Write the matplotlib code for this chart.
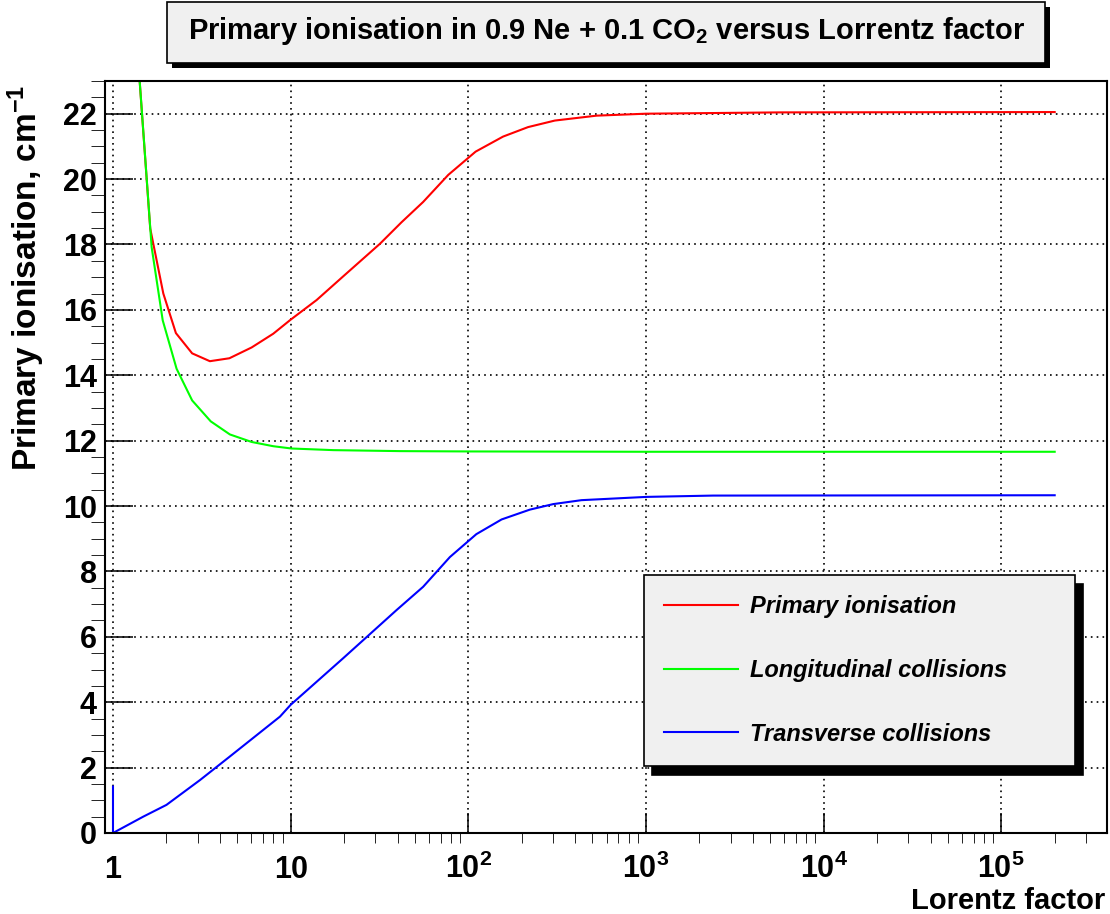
import numpy as np
import matplotlib
matplotlib.use("Agg")
import matplotlib.pyplot as plt
from matplotlib.patches import Rectangle
from matplotlib.ticker import FixedLocator, FixedFormatter, LogLocator, NullFormatter, MultipleLocator

plt.rcParams['font.family'] = ['Liberation Sans', 'DejaVu Sans']
plt.rcParams['font.weight'] = 'bold'
plt.rcParams['axes.labelweight'] = 'bold'
plt.rcParams['mathtext.fontset'] = 'custom'
plt.rcParams['mathtext.rm'] = 'Liberation Sans:bold'
plt.rcParams['mathtext.it'] = 'Liberation Sans:italic:bold'
plt.rcParams['mathtext.bf'] = 'Liberation Sans:bold'
plt.rcParams['mathtext.default'] = 'rm'

# values
gamma_primary = [1.35, 1.62, 1.92, 2.26, 2.79, 3.51, 4.52, 6.03, 7.98, 10.0, 14.0, 20.0,
                 31.8, 42.1, 55.7, 77.2, 110, 157, 217, 307, 527, 1000, 5670, 2.0e5]
primary = [24.5, 18.49, 16.5, 15.29, 14.67, 14.43, 14.52, 14.85, 15.27, 15.70, 16.3, 17.05,
           18.02, 18.68, 19.3, 20.13, 20.84, 21.30, 21.59, 21.79, 21.94, 22.00, 22.04, 22.05]

gamma_long = [1.35, 1.65, 1.905, 2.28, 2.79, 3.55, 4.55, 6.03, 7.98, 10.1, 17.4, 41.2,
              100, 1000, 2.0e5]
longitudinal = [24.5, 17.92, 15.68, 14.2, 13.23, 12.59, 12.19, 11.96, 11.83, 11.76, 11.71, 11.68,
                11.67, 11.66, 11.66]

gamma_trans = [1.0, 1.0, 1.48, 2.0, 3.09, 4.5, 6.0, 8.71, 10.0, 19.8, 39.5, 55.7, 78.8,
               111, 154, 222, 301, 434, 1007, 2390, 2.0e5]
transverse = [1.42, 0.0, 0.50, 0.86, 1.62, 2.32, 2.86, 3.56, 3.92, 5.35, 6.82, 7.53, 8.44,
              9.14, 9.59, 9.89, 10.06, 10.18, 10.28, 10.32, 10.33]

x_ticks = [1, 10, 1e2, 1e3, 1e4, 1e5]
x_ticklabels = ['1', '10', '$10^{2}$', '$10^{3}$', '$10^{4}$', '$10^{5}$']

W, H = 1110, 914
fig = plt.figure(figsize=(W / 100, H / 100), dpi=100)
ax = fig.add_axes([105 / W, 1 - 833 / H, 1002 / W, 752 / H])

ax.plot(gamma_primary, primary, color='#ff0000', lw=1.5, label='Primary ionisation')
ax.plot(gamma_long, longitudinal, color='#00ff00', lw=1.5, label='Longitudinal collisions')
ax.plot(gamma_trans, transverse, color='#0000ff', lw=1.5, label='Transverse collisions')

ax.set_xscale('log')
ax.set_xlim(0.9016, 3.94e5)
ax.set_ylim(0, 23)

ax.xaxis.set_major_locator(FixedLocator(x_ticks))
ax.xaxis.set_major_formatter(FixedFormatter(x_ticklabels))
ax.xaxis.set_minor_locator(LogLocator(base=10, subs=np.arange(2, 10), numticks=30))
ax.xaxis.set_minor_formatter(NullFormatter())
ax.yaxis.set_major_locator(MultipleLocator(2))
ax.yaxis.set_minor_locator(MultipleLocator(0.5))

ax.tick_params(direction='in', top=False, right=False, width=1.1, labelsize=22)
ax.tick_params(axis='x', which='major', length=14.4, pad=32.4)
ax.tick_params(axis='x', which='minor', length=7.2)
ax.tick_params(axis='y', which='major', length=20, pad=5.8)
ax.tick_params(axis='y', which='minor', length=10)
for lab in ax.get_xticklabels():
    lab.set_va('baseline')

for sp in ax.spines.values():
    sp.set_linewidth(1.5)

ax.grid(True, which='major', color='black', linestyle=(0, (1, 2.5)), lw=1.2)

ax.set_ylabel('Primary ionisation, cm$^{-1}$', fontsize=24, fontweight='bold', loc='top')
ax.yaxis.set_label_coords(-0.058, 0.995)
ax.set_xlabel('Lorentz factor', fontsize=21, fontweight='bold', loc='right')
ax.xaxis.set_label_coords(0.998, -0.1011)
ax.xaxis.label.set_va('baseline')

leg = ax.legend(loc='upper left', bbox_to_anchor=(644 / W, 1 - 764 / H, 431 / W, 189 / H),
                bbox_transform=fig.transFigure, mode='expand', borderaxespad=0,
                fancybox=False, edgecolor='black', facecolor='#f0f0f0', framealpha=1,
                shadow={'ox': 5.5, 'oy': -6.5, 'color': 'black', 'alpha': 1},
                prop=dict(family='Liberation Sans', weight='bold', style='italic', size=17),
                handlelength=3.1, handletextpad=0.55, labelspacing=1.72, borderpad=0.86)
leg.get_frame().set_linewidth(1.2)

# title box with shadow
fig.add_artist(Rectangle((172 / W, 1 - 68 / H), 878 / W, 61 / H, transform=fig.transFigure,
                         facecolor='black', edgecolor='none'))
fig.add_artist(Rectangle((167 / W, 1 - 63 / H), 878 / W, 61 / H, transform=fig.transFigure,
                         facecolor='#f0f0f0', edgecolor='black', lw=1.2))
fig.text(607 / W, 1 - 39 / H, 'Primary ionisation in 0.9 Ne + 0.1 CO$_2$ versus Lorrentz factor',
         ha='center', va='baseline', fontsize=21)

fig.savefig('out.png', dpi=100)
